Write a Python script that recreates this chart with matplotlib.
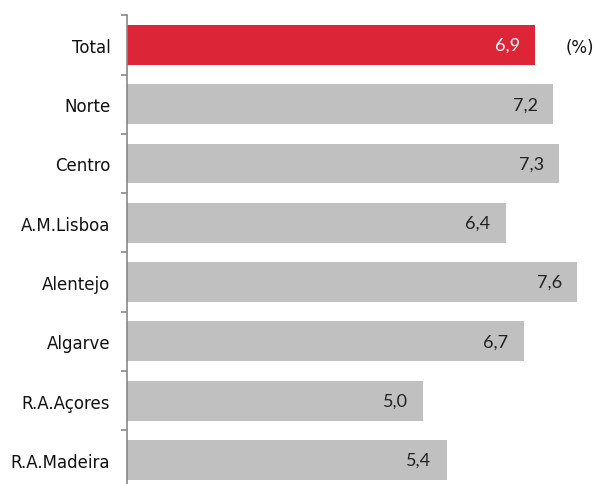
import matplotlib.pyplot as plt
from matplotlib.ticker import FixedLocator

regions = ['Total', 'Norte', 'Centro', 'A.M.Lisboa', 'Alentejo', 'Algarve',
           'R.A.Açores', 'R.A.Madeira']
values = [6.9, 7.2, 7.3, 6.4, 7.6, 6.7, 5.0, 5.4]
labels = ['6,9', '7,2', '7,3', '6,4', '7,6', '6,7', '5,0', '5,4']

red = '#DC2537'
grey = '#C0C0C0'
colors = [red] + [grey] * (len(regions) - 1)

fig = plt.figure(figsize=(5.96, 4.85), dpi=100)
ax = fig.add_axes([127 / 596, -0.0115, 469 / 596, 0.978])

ypos = list(range(len(regions)))
ax.barh(ypos, values, height=0.67, color=colors)

for y, v, lab, c in zip(ypos, values, labels, colors):
    ax.annotate(lab, (v, y), xytext=(-11, 0), textcoords='offset points',
                ha='right', va='center', fontsize=13, family='Lato',
                color='white' if c == red else '#222222')

ax.set_xlim(0, 469 / 59.2)
ax.set_ylim(len(regions) - 0.5, -0.5)

ax.set_yticks(ypos)
ax.set_yticklabels(regions, fontsize=12, color='#111111')
ax.tick_params(axis='y', which='major', length=0, pad=12)
ax.yaxis.set_minor_locator(FixedLocator([i - 0.5 for i in range(len(regions) + 1)]))
ax.tick_params(axis='y', which='minor', length=4, width=1.2, color='#888888')
ax.set_xticks([])

for s in ['top', 'right', 'bottom']:
    ax.spines[s].set_visible(False)
ax.spines['left'].set_color('#888888')
ax.spines['left'].set_linewidth(1.2)

fig.text(0.973, 0.901, '(%)', ha='center', va='center', fontsize=12, color='#111111')

fig.savefig('out.png', dpi=100)
